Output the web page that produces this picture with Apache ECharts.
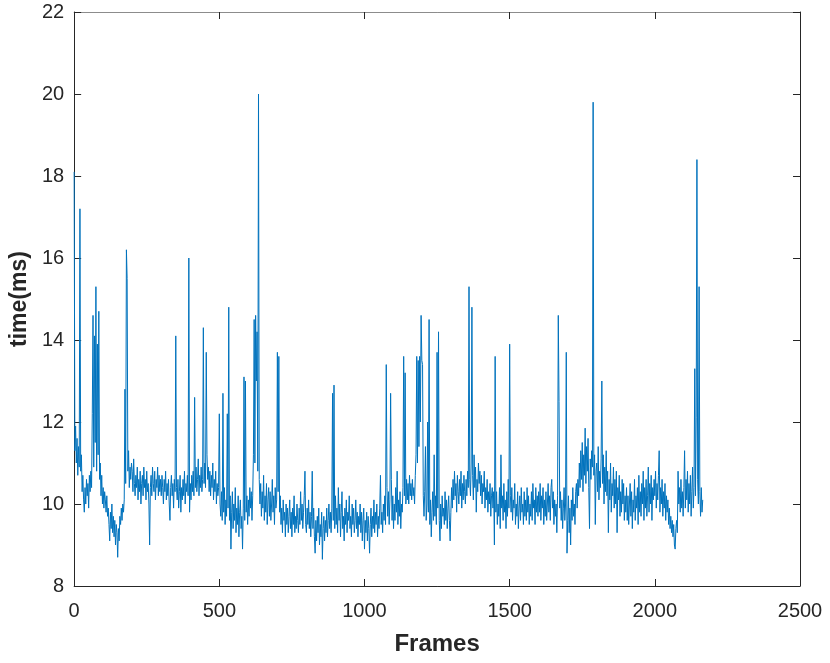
<!DOCTYPE html>
<html>
<head>
<meta charset="utf-8">
<script src="https://cdn.jsdelivr.net/npm/echarts@6/dist/echarts.min.js"></script>
<style>
  html, body { margin: 0; padding: 0; background: #fff; }
  #chart { width: 830px; height: 663px; }
</style>
</head>
<body>
<div id="chart"></div>
<script>
// frame spacing of the samples below
const frameStep = 2.5

// time per frame (ms), one row = 100 frames
const times = [
  18.1, 11.3, 11.9, 11.0, 11.6, 10.7, 11.4, 10.9, 17.2, 10.8, 11.2, 10.3, 10.7, 10.1, 9.8, 10.4, 10.0, 10.6, 10.2, 10.5,
  9.9, 10.7, 10.3, 10.8, 10.4, 12.2, 14.6, 10.9, 14.1, 11.5, 15.3, 10.8, 13.9, 11.2, 14.7, 10.6, 11.0, 10.2, 10.7, 10.0,
  10.4, 9.9, 10.3, 10.1, 9.8, 10.2, 9.7, 9.9, 9.5, 9.1, 9.8, 9.4, 10.0, 9.3, 9.7, 9.2, 9.6, 9.0, 9.5, 9.3,
  8.7, 9.4, 9.1, 9.7, 9.5, 9.9, 9.6, 10.0, 9.8, 10.1, 12.8, 10.5, 16.2, 15.5, 10.8, 11.3, 10.4, 10.9, 10.6, 11.0,
  10.8, 10.3, 11.1, 10.5, 10.2, 10.7, 10.4, 10.9, 10.1, 10.6, 10.3, 10.8, 10.0, 10.5, 10.7, 10.2, 10.9, 10.4, 10.6, 10.1,
  10.8, 10.3, 10.5, 10.0, 9.0, 10.4, 10.7, 10.2, 10.9, 10.5, 10.3, 10.8, 10.1, 10.6, 10.4, 10.9, 10.2, 10.7, 10.3, 10.6,
  10.2, 10.7, 10.4, 10.0, 10.6, 10.3, 10.8, 10.1, 10.5, 10.2, 10.6, 10.0, 9.6, 10.4, 10.7, 10.2, 10.5, 9.9, 10.6, 10.3,
  14.1, 10.4, 10.1, 10.6, 9.9, 10.3, 10.7, 9.8, 10.4, 10.1, 10.6, 10.2, 10.8, 10.0, 10.5, 10.3, 10.7, 10.2, 16.0, 9.8,
  10.5, 10.1, 10.7, 10.3, 10.8, 10.2, 12.6, 10.4, 10.9, 10.3, 10.6, 11.1, 10.2, 10.7, 10.4, 10.9, 10.3, 10.6, 14.3, 10.5,
  11.0, 10.4, 13.7, 11.2, 10.6, 10.9, 10.3, 10.8, 10.2, 10.7, 10.4, 11.0, 10.1, 10.6, 10.3, 10.8, 10.0, 10.5, 10.2, 10.4,
  12.2, 10.0, 9.7, 10.3, 9.6, 12.7, 9.8, 10.4, 9.5, 10.1, 9.7, 12.2, 9.9, 14.8, 9.6, 10.2, 8.9, 9.8, 10.3, 9.4,
  10.0, 9.6, 10.4, 9.3, 9.9, 9.5, 10.2, 9.2, 9.8, 10.1, 9.4, 9.7, 8.9, 9.9, 13.1, 9.6, 13.0, 9.8, 10.2, 9.5,
  10.1, 9.7, 10.4, 9.9, 10.3, 9.6, 10.2, 11.2, 14.5, 11.0, 14.6, 13.0, 14.2, 10.8, 20.0, 10.6, 10.0, 10.5, 9.7, 10.3,
  9.9, 10.7, 9.6, 10.2, 9.8, 10.5, 9.5, 10.1, 10.4, 9.7, 10.3, 9.6, 10.0, 10.6, 9.8, 10.2, 9.5, 10.4, 9.9, 10.1,
  13.7, 10.3, 13.6, 9.8, 10.2, 9.5, 9.9, 9.3, 10.1, 9.6, 9.8, 9.2, 10.0, 9.5, 9.9, 9.3, 9.7, 10.1, 9.4, 9.8,
  9.2, 9.9, 9.5, 10.2, 9.3, 9.7, 9.4, 10.0, 9.6, 9.3, 9.9, 9.5, 10.3, 9.6, 10.0, 9.4, 9.8, 10.2, 10.8, 9.5,
  9.3, 9.9, 9.5, 10.1, 9.4, 9.8, 9.2, 9.7, 10.8, 9.4, 9.9, 9.2, 8.8, 9.6, 9.1, 9.7, 9.3, 9.9, 9.0, 9.5,
  9.2, 9.8, 8.65, 9.4, 9.7, 9.1, 9.6, 9.3, 9.9, 9.2, 9.6, 10.0, 9.4, 9.8, 9.3, 9.9, 12.7, 9.6, 12.9, 9.4,
  10.2, 9.5, 9.9, 9.3, 10.4, 9.6, 10.0, 9.2, 9.8, 10.3, 9.4, 9.7, 9.1, 9.9, 9.5, 10.1, 9.3, 9.8, 9.6, 10.2,
  9.4, 9.7, 9.2, 10.0, 9.5, 9.9, 9.3, 9.6, 10.1, 9.4, 9.8, 9.2, 9.7, 9.5, 10.0, 9.3, 9.8, 9.1, 9.6, 9.9,
  8.9, 9.6, 9.3, 9.8, 9.1, 9.7, 9.4, 8.8, 9.5, 9.9, 9.2, 9.7, 9.4, 10.1, 9.3, 9.8, 9.5, 10.0, 9.2, 9.7,
  9.4, 9.9, 10.7, 9.5, 9.8, 9.3, 10.0, 9.6, 10.2, 9.5, 13.4, 10.4, 9.7, 10.3, 9.5, 10.1, 12.7, 10.6, 9.6, 10.2,
  9.4, 10.0, 9.6, 10.4, 9.8, 10.8, 9.5, 10.1, 9.7, 10.3, 9.4, 10.0, 9.8, 10.4, 13.6, 10.2, 13.2, 10.0, 10.6, 10.1,
  10.5, 10.0, 10.7, 10.2, 10.5, 10.1, 10.6, 10.2, 10.4, 10.0, 10.7, 11.2, 13.6, 11.0, 13.5, 11.4, 13.6, 12.0, 14.6, 13.5,
  13.4, 10.2, 9.7, 10.3, 11.4, 9.6, 10.0, 12.0, 9.8, 14.5, 9.5, 10.1, 9.2, 9.8, 10.3, 9.6, 11.2, 9.7, 10.2, 9.5,
  13.7, 9.9, 14.2, 9.6, 9.1, 10.0, 9.4, 10.2, 9.7, 9.9, 9.5, 10.3, 9.6, 10.1, 9.4, 9.9, 10.2, 9.6, 9.1, 9.8,
  10.4, 9.9, 10.6, 10.1, 10.8, 10.2, 10.5, 9.8, 10.7, 10.3, 10.0, 10.6, 10.2, 10.8, 9.9, 10.5, 10.1, 10.7, 10.3, 10.0,
  10.6, 10.2, 10.8, 10.4, 15.3, 10.6, 10.2, 11.0, 14.8, 10.7, 10.1, 11.2, 10.4, 10.9, 9.8, 10.6, 10.3, 11.0, 10.5, 10.8,
  10.2, 10.7, 10.0, 10.5, 10.3, 10.8, 9.9, 10.4, 10.1, 10.6, 9.8, 10.3, 10.0, 10.5, 9.7, 10.2, 10.4, 9.9, 10.3, 9.0,
  13.6, 9.8, 10.3, 9.5, 10.0, 9.7, 10.4, 9.4, 11.2, 9.9, 10.2, 9.6, 10.5, 9.8, 10.1, 9.4, 10.3, 9.7, 10.6, 9.9,
  13.9, 10.2, 9.8, 10.4, 9.6, 10.1, 9.9, 10.5, 9.5, 10.0, 9.7, 10.3, 9.4, 9.9, 10.2, 9.6, 10.4, 9.8, 10.0, 9.5,
  10.3, 9.7, 10.1, 9.6, 10.4, 9.8, 10.2, 9.5, 10.0, 9.7, 10.3, 9.6, 10.5, 9.9, 10.1, 9.5, 10.4, 9.8, 10.2, 9.7,
  10.3, 9.8, 10.5, 9.6, 10.2, 9.9, 10.4, 9.5, 10.1, 9.7, 10.3, 9.6, 10.0, 10.5, 9.8, 10.2, 9.6, 10.4, 10.6, 9.9,
  10.3, 9.5, 10.1, 9.7, 10.0, 9.3, 10.2, 14.6, 12.5, 9.9, 10.3, 9.6, 10.1, 9.4, 9.9, 10.4, 9.6, 10.0, 13.7, 8.8,
  9.6, 10.2, 9.3, 9.9, 9.0, 10.1, 9.6, 10.4, 9.7, 10.0, 9.5, 10.3, 10.5, 9.9, 10.6, 10.2, 11.0, 10.4, 11.3, 10.6,
  11.5, 10.3, 11.2, 10.7, 11.85, 10.5, 11.4, 10.8, 11.6, 10.4, 9.4, 11.1, 10.6, 11.3, 10.9, 19.8, 10.7, 11.2, 9.5, 10.8,
  11.0, 10.3, 11.4, 10.1, 10.8, 10.4, 11.1, 13.0, 10.5, 11.2, 10.0, 10.9, 10.3, 11.3, 10.2, 10.8, 9.3, 10.6, 10.1, 11.0,
  9.8, 10.5, 10.2, 10.9, 9.9, 10.6, 10.0, 10.8, 9.3, 10.4, 10.1, 10.7, 9.7, 10.3, 9.8, 10.6, 10.0, 10.5, 9.6, 10.2,
  9.8, 10.4, 9.6, 10.2, 9.5, 10.0, 10.5, 9.7, 10.3, 9.4, 10.1, 9.8, 10.6, 9.6, 10.2, 9.9, 10.4, 9.5, 10.7, 9.8,
  10.3, 9.7, 10.5, 10.0, 10.8, 9.6, 10.4, 9.9, 10.6, 9.7, 10.2, 10.9, 9.8, 10.5, 10.0, 10.7, 9.6, 10.4, 10.1, 10.6,
  10.2, 10.8, 9.9, 10.5, 10.1, 10.7, 11.3, 9.8, 10.4, 10.0, 10.6, 9.7, 10.3, 9.9, 10.5, 9.6, 10.2, 9.8, 10.1, 9.5,
  9.9, 9.4, 9.7, 9.3, 9.6, 9.2, 9.5, 9.0, 8.9, 9.4, 9.6, 9.3, 10.8, 10.0, 10.4, 9.8, 10.6, 9.9, 10.3, 9.7,
  10.4, 11.3, 9.9, 10.6, 10.1, 10.8, 9.8, 10.5, 10.0, 10.7, 9.7, 10.3, 10.9, 9.9, 10.4, 13.3, 10.2, 12.1, 18.4, 10.6,
  10.0, 15.3, 10.3, 9.7, 10.4, 9.8, 10.1
]

const xTicks = [0, 500, 1000, 1500, 2000, 2500]
const yTicks = [8, 10, 12, 14, 16, 18, 20, 22]

const textColor = '#262626'
const fontFamily = '"Liberation Sans", Arial, Helvetica, sans-serif'

const myChart = echarts.init(document.getElementById('chart'), null, { renderer: 'canvas' })

const points = times.map((t, i) => [i * frameStep, t])

// box edges: top / right axes only carry inward ticks
const boxAxis = {
  axisLine: { show: true, onZero: false, lineStyle: { color: textColor, width: 1 } },
  axisTick: { show: true, inside: true, length: 7, lineStyle: { color: textColor } },
  axisLabel: { show: false },
  splitLine: { show: false }
}

const plainNumber = v => String(v)

const option = {
  backgroundColor: '#fff',
  animation: false,
  grid: { left: 73, right: 30, top: 12, bottom: 77 },
  xAxis: [
    {
      type: 'value',
      min: xTicks[0],
      max: xTicks[xTicks.length - 1],
      interval: 500,
      name: 'Frames',
      nameLocation: 'middle',
      nameGap: 46,
      nameTextStyle: { color: textColor, fontSize: 24, fontWeight: 'bold', fontFamily },
      axisLine: { show: true, onZero: false, lineStyle: { color: textColor, width: 1 } },
      axisTick: { show: true, inside: true, length: 7, lineStyle: { color: textColor } },
      axisLabel: { color: textColor, fontSize: 20, fontFamily, margin: 15, formatter: plainNumber },
      splitLine: { show: false }
    },
    Object.assign({
      type: 'value', position: 'top',
      min: xTicks[0], max: xTicks[xTicks.length - 1], interval: 500
    }, boxAxis, { axisLine: { show: true, onZero: false, lineStyle: { color: '#8c8c8c', width: 1 } } })
  ],
  yAxis: [
    {
      type: 'value',
      min: yTicks[0],
      max: yTicks[yTicks.length - 1],
      interval: 2,
      name: 'time(ms)',
      nameLocation: 'middle',
      nameGap: 40,
      nameTextStyle: { color: textColor, fontSize: 23, fontWeight: 'bold', fontFamily },
      axisLine: { show: true, onZero: false, lineStyle: { color: textColor, width: 1 } },
      axisTick: { show: true, inside: true, length: 7, lineStyle: { color: textColor } },
      axisLabel: { color: textColor, fontSize: 20, fontFamily, margin: 10, formatter: plainNumber },
      splitLine: { show: false }
    },
    Object.assign({
      type: 'value', position: 'right',
      min: yTicks[0], max: yTicks[yTicks.length - 1], interval: 2
    }, boxAxis)
  ],
  series: [
    {
      type: 'line',
      data: points,
      xAxisIndex: 0,
      yAxisIndex: 0,
      showSymbol: false,
      symbol: 'none',
      sampling: null,
      lineStyle: { color: '#0072BD', width: 1 },
      silent: true
    }
  ]
}

myChart.setOption(option)
</script>
</body>
</html>
